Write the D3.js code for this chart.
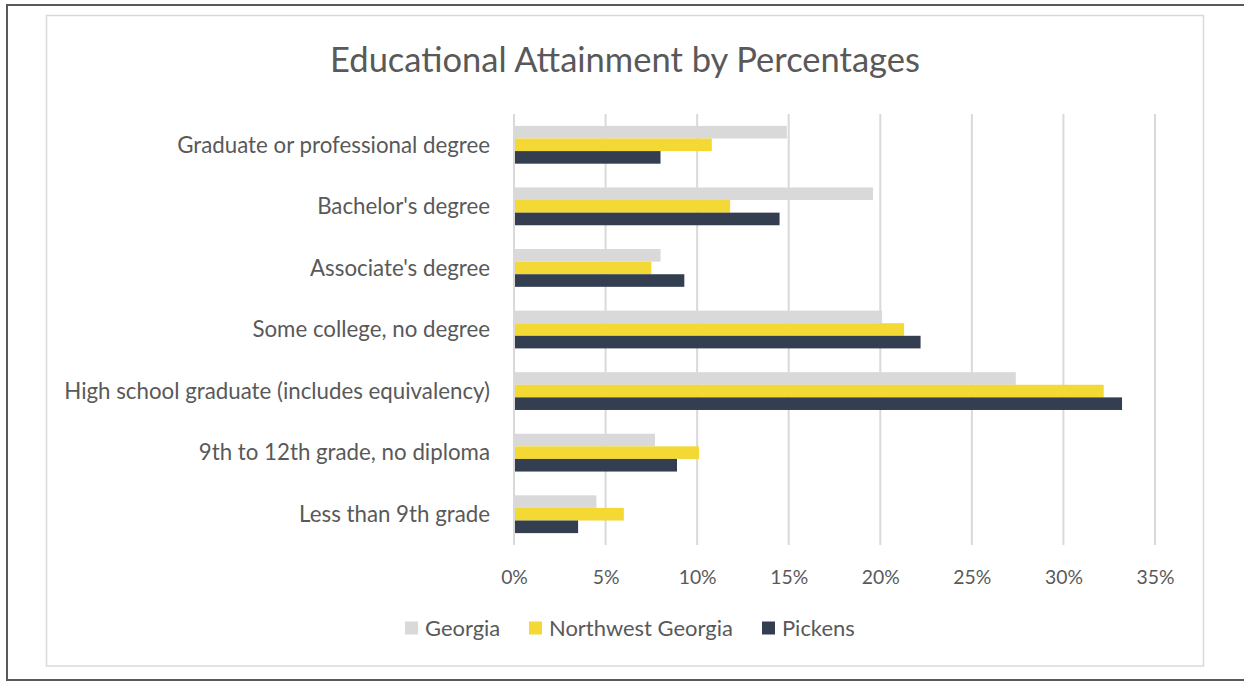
<!DOCTYPE html>
<html>
<head>
<meta charset="utf-8">
<script src="https://cdn.jsdelivr.net/npm/d3@7"></script>
<style>
  html, body { margin: 0; padding: 0; background: #ffffff; }
  svg { display: block; }
  text { font-family: Lato, "Open Sans", sans-serif; fill: #595959; }
</style>
</head>
<body>
<svg id="chart" width="1244" height="681"></svg>
<script>
const title = "Educational Attainment by Percentages";
const categories = [
  "Graduate or professional degree",
  "Bachelor's degree",
  "Associate's degree",
  "Some college, no degree",
  "High school graduate (includes equivalency)",
  "9th to 12th grade, no diploma",
  "Less than 9th grade"
];
const seriesNames = ["Georgia", "Northwest Georgia", "Pickens"];
const georgia   = [14.9, 19.6, 8.0, 20.1, 27.4, 7.7, 4.5];
const northwest = [10.8, 11.8, 7.5, 21.3, 32.2, 10.1, 6.0];
const pickens   = [8.0, 14.5, 9.3, 22.2, 33.2, 8.9, 3.5];
const tickValues = [0, 5, 10, 15, 20, 25, 30, 35];
const colors = ["#d9d9d9", "#f4d935", "#333f50"];

const seriesValues = [georgia, northwest, pickens];

const svg = d3.select("#chart");

// outer frame lines
svg.append("line").attr("x1", 6).attr("x2", 1244).attr("y1", 5).attr("y2", 5)
  .attr("stroke", "#595959").attr("stroke-width", 2);
svg.append("line").attr("x1", 7).attr("x2", 7).attr("y1", 4).attr("y2", 681)
  .attr("stroke", "#595959").attr("stroke-width", 2);
svg.append("line").attr("x1", 6).attr("x2", 1244).attr("y1", 680).attr("y2", 680)
  .attr("stroke", "#595959").attr("stroke-width", 2);

// inner chart area border
svg.append("rect").attr("x", 46.5).attr("y", 15.5).attr("width", 1157).attr("height", 650.5)
  .attr("fill", "#ffffff").attr("stroke", "#d9d9d9").attr("stroke-width", 1.5);

// helper: fit font-size so text matches target width
function fitText(sel, targetWidth, baseSize) {
  sel.style("font-size", baseSize + "px");
  const w = sel.node().getComputedTextLength();
  const size = baseSize * targetWidth / w;
  sel.style("font-size", size + "px");
  return size;
}

// Title
const t = svg.append("text").attr("x", 625).attr("y", 72)
  .attr("text-anchor", "middle").text(title);
fitText(t, 590, 32);

// scales
const x = d3.scaleLinear().domain([0, 35]).range([514, 1155]);
const y = d3.scaleBand().domain(categories).range([114, 545]).paddingInner(0.386).paddingOuter(0.193);
const ySub = d3.scaleBand().domain(seriesNames).range([0, y.bandwidth()]);

// gridlines
svg.append("g").selectAll("line").data(tickValues).join("line")
  .attr("x1", d => x(d)).attr("x2", d => x(d))
  .attr("y1", 114).attr("y2", 545)
  .attr("stroke", "#d9d9d9").attr("stroke-width", 2);

// bars
const groups = svg.append("g").selectAll("g").data(categories).join("g")
  .attr("transform", c => `translate(0,${y(c)})`);
groups.selectAll("rect").data((c, i) => seriesNames.map((s, j) => ({s, j, v: seriesValues[j][i]})))
  .join("rect")
  .attr("x", x(0) + 1)
  .attr("y", d => ySub(d.s))
  .attr("width", d => x(d.v) - x(0) - 1)
  .attr("height", ySub.bandwidth())
  .attr("fill", d => colors[d.j]);

// category labels
const catLabels = svg.append("g").selectAll("text").data(categories).join("text")
  .attr("x", 490)
  .attr("y", c => y(c) + y.bandwidth() / 2)
  .attr("dy", "0.35em")
  .attr("text-anchor", "end")
  .text(c => c);
const longest = catLabels.filter(c => c === categories[4]);
const catSize = fitText(longest, 426, 20);
catLabels.style("font-size", catSize + "px");

// x axis tick labels
const xAxis = d3.axisBottom(x).tickValues(tickValues).tickFormat(d => d + "%").tickSize(0);
const ax = svg.append("g").attr("transform", "translate(0,577)").call(xAxis);
ax.select(".domain").remove();
ax.selectAll("text").attr("fill", "#595959").style("font-family", "Lato, 'Open Sans', sans-serif");
const lastTick = ax.selectAll("text").filter(d => d === 35);
const tickSize = fitText(lastTick, 38, 20);
ax.selectAll("text").style("font-size", tickSize + "px").attr("y", 0).attr("dy", "0.35em");

// legend
const legendX = [405, 529, 762];
const legend = svg.append("g").selectAll("g").data(seriesNames).join("g")
  .attr("transform", (d, i) => `translate(${legendX[i]},628)`);
legend.append("rect").attr("x", 0).attr("y", -6.5).attr("width", 13).attr("height", 13)
  .attr("fill", (d, i) => colors[i]);
const legText = legend.append("text").attr("x", 20).attr("y", 0).attr("dy", "0.35em").text(d => d);
const legNW = legText.filter(d => d === "Northwest Georgia");
const legSize = fitText(legNW, 184, 20);
legText.style("font-size", legSize + "px");
</script>
</body>
</html>
